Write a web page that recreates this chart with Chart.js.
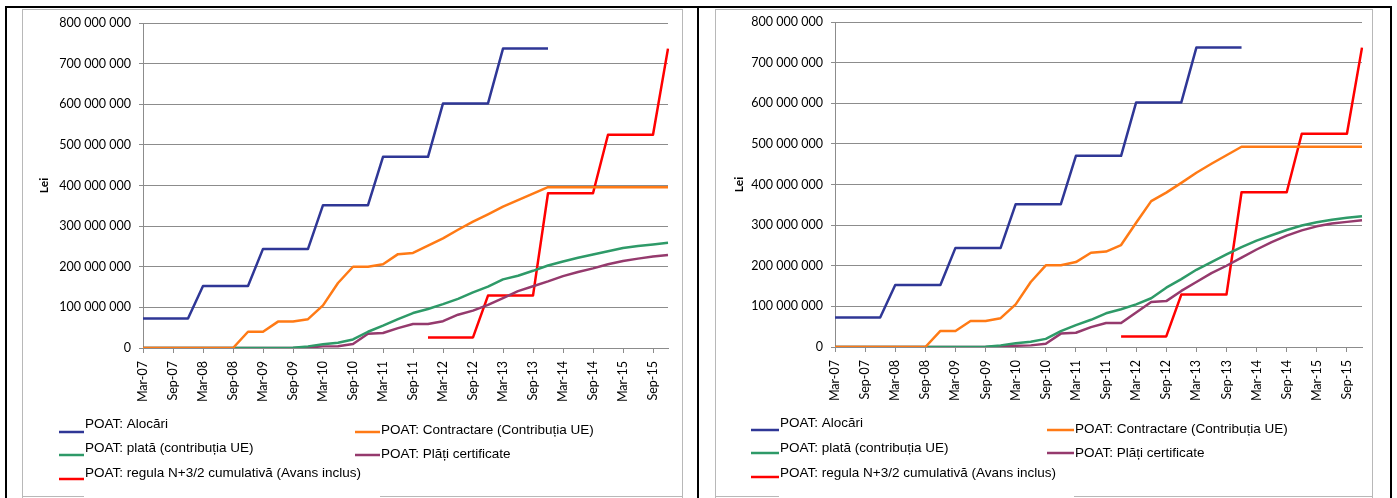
<!DOCTYPE html>
<html>
<head>
<meta charset="utf-8">
<script src="https://cdn.jsdelivr.net/npm/chart.js@4/dist/chart.umd.min.js"></script>
<style>
  html, body { margin: 0; padding: 0; background: #fff; }
  #page { position: relative; width: 1397px; height: 498px; overflow: hidden; background: #fff; }
  canvas { position: absolute; top: 0; }
  .ln { position: absolute; }
</style>
</head>
<body>
<div id="page">
  <!-- chart-area frames (grey) -->
  <div class="ln" style="left:22px;top:9px;width:1px;height:489px;background:#b8b8b8"></div>
  <div class="ln" style="left:22px;top:9px;width:661px;height:1px;background:#b8b8b8"></div>
  <div class="ln" style="left:682px;top:9px;width:1px;height:489px;background:#b8b8b8"></div>
  <div class="ln" style="left:22px;top:496px;width:62px;height:1px;background:#b8b8b8"></div>
  <div class="ln" style="left:380px;top:496px;width:303px;height:1px;background:#b8b8b8"></div>

  <div class="ln" style="left:715px;top:9px;width:1px;height:489px;background:#b8b8b8"></div>
  <div class="ln" style="left:715px;top:9px;width:658px;height:1px;background:#b8b8b8"></div>
  <div class="ln" style="left:1372px;top:9px;width:1px;height:489px;background:#b8b8b8"></div>
  <div class="ln" style="left:715px;top:496px;width:64px;height:1px;background:#b8b8b8"></div>
  <div class="ln" style="left:1074px;top:496px;width:299px;height:1px;background:#b8b8b8"></div>

  <canvas id="chartA" width="697" height="498" style="left:0px"></canvas>
  <canvas id="chartB" width="697" height="498" style="left:700px"></canvas>

  <!-- outer black table frame -->
  <div class="ln" style="left:5px;top:6px;width:1387px;height:2px;background:#000"></div>
  <div class="ln" style="left:5px;top:6px;width:2px;height:492px;background:#000"></div>
  <div class="ln" style="left:697px;top:6px;width:2px;height:492px;background:#000"></div>
  <div class="ln" style="left:1390px;top:6px;width:2px;height:492px;background:#000"></div>
</div>

<script>
// Quarterly categories (the axis labels only every second one: Mar / Sep)
const quarters = [
  'Mar-07','Jun-07','Sep-07','Dec-07','Mar-08','Jun-08','Sep-08','Dec-08',
  'Mar-09','Jun-09','Sep-09','Dec-09','Mar-10','Jun-10','Sep-10','Dec-10',
  'Mar-11','Jun-11','Sep-11','Dec-11','Mar-12','Jun-12','Sep-12','Dec-12',
  'Mar-13','Jun-13','Sep-13','Dec-13','Mar-14','Jun-14','Sep-14','Dec-14',
  'Mar-15','Jun-15','Sep-15','Dec-15'
];

const seriesNames = [
  'POAT: Alocări',
  'POAT: Contractare (Contribuția UE)',
  'POAT: plată (contribuția UE)',
  'POAT: Plăți certificate',
  'POAT: regula N+3/2 cumulativă (Avans inclus)'
];

// Values in millions of lei
const alocari = [
  72.8, 72.8, 72.8, 72.8, 152.4, 152.4, 152.4, 152.4,
  244, 244, 244, 244, 351.5, 351.5, 351.5, 351.5,
  470.5, 470.5, 470.5, 470.5, 602, 602, 602, 602,
  737, 737, 737, 737, null, null, null, null,
  null, null, null, null
];

const regulaN32 = [
  null, null, null, null, null, null, null, null,
  null, null, null, null, null, null, null, null,
  null, null, null, 26, 26, 26, 26, 129,
  129, 129, 129, 381, 381, 381, 381, 525,
  525, 525, 525, 737
];

// Left chart
const contractareA = [
  0, 0, 0, 0, 0, 0, 0, 40,
  40, 65, 65, 71, 105, 160, 200, 200,
  206, 231, 234, 252, 270, 291, 311, 329,
  348, 364, 380, 396, 396, 396, 396, 396,
  396, 396, 396, 396
];
const plataA = [
  0, 0, 0, 0, 0, 0, 0, 0,
  0, 0, 0.5, 4, 9, 13, 21, 40,
  55, 71, 86, 96, 108, 121, 137, 151,
  169, 178, 190, 203, 213, 222, 230, 238,
  246, 251, 255, 259
];
const certificateA = [
  0, 0, 0, 0, 0, 0, 0, 0,
  0, 0, 0, 1.5, 4, 4.5, 10, 35,
  37, 49, 59, 59, 66, 82, 92, 106,
  123, 140, 152, 164, 177, 187, 196, 206,
  214, 220, 225, 229
];

// Right chart
const contractareB = [
  0, 0, 0, 0, 0, 0, 0, 39.5,
  39.5, 64, 64, 71, 105, 160, 201, 201,
  209, 232, 235, 251, 306, 359, 380, 404,
  429, 451, 472, 493, 493, 493, 493, 493,
  493, 493, 493, 493
];
const plataB = [
  0, 0, 0, 0, 0, 0, 0, 0,
  0, 0, 0.5, 4, 9, 13, 20, 39,
  54, 67, 83, 93, 105, 120, 146, 167,
  190, 209, 228, 246, 262, 275, 288, 299,
  307, 313, 318, 322
];
const certificateB = [
  0, 0, 0, 0, 0, 0, 0, 0,
  0, 0, 0, 1.5, 3, 4, 8, 33,
  35, 49, 59, 59, 85, 111, 113, 138,
  160, 182, 200, 220, 240, 258, 274, 287,
  297, 304, 308, 312
];

const colors = ['#2f3796', '#ff7a15', '#2e9a68', '#953a6d', '#ff0000'];
const GRID = '#8c8c8c';
const AXIS = '#8c8c8c';

function fmtLei(v) {
  const n = Math.round(v * 1000000);
  return String(n).replace(/\B(?=(\d{3})+(?!\d))/g, ' ');
}

// Two-column legend drawn below the plot
function legendPlugin(geo) {
  return {
    id: 'sideLegend',
    afterDraw(chart) {
      const ctx = chart.ctx;
      ctx.save();
      ctx.font = '13.5px "Liberation Sans", Arial, sans-serif';
      ctx.textBaseline = 'middle';
      ctx.textAlign = 'left';
      chart.data.datasets.forEach((ds, i) => {
        const p = geo[i];
        ctx.strokeStyle = ds.borderColor;
        ctx.lineWidth = 2.5;
        ctx.beginPath();
        ctx.moveTo(p.x0, p.ly);
        ctx.lineTo(p.x1, p.ly);
        ctx.stroke();
        ctx.fillStyle = '#000';
        ctx.fillText(ds.label, p.x1 + 1, p.ty);
      });
      ctx.restore();
    }
  };
}

function makeChart(id, sets, g) {
  const datasets = sets.map((d, i) => ({
    label: seriesNames[i],
    data: d,
    borderColor: colors[i],
    backgroundColor: colors[i],
    borderWidth: 2.5,
    pointRadius: 0,
    pointHoverRadius: 0,
    fill: false,
    tension: 0,
    spanGaps: false,
    borderJoinStyle: 'round'
  }));
  return new Chart(document.getElementById(id), {
    type: 'line',
    data: { labels: quarters, datasets },
    options: {
      responsive: false,
      animation: false,
      devicePixelRatio: 1,
      layout: { padding: { left: 0, top: g.top, right: g.right, bottom: 0 } },
      plugins: { legend: { display: false }, tooltip: { enabled: false } },
      scales: {
        x: {
          type: 'category',
          offset: false,
          grid: {
            drawOnChartArea: false,
            tickLength: 5,
            tickColor: (c) => (c.index % 2 === 0 ? AXIS : 'rgba(0,0,0,0)')
          },
          border: { color: AXIS, width: 1 },
          ticks: {
            autoSkip: false,
            maxRotation: 90,
            minRotation: 90,
            padding: 8,
            color: '#000',
            font: { family: 'Lato', size: 12.5 },
            callback: (v, i) => (i % 2 === 0 ? quarters[i] : '')
          },
          afterFit: (s) => { s.height = g.xh; }
        },
        y: {
          min: 0,
          max: 800,
          grid: { color: GRID, tickLength: 4, tickColor: GRID },
          border: { color: AXIS, width: 1 },
          ticks: {
            stepSize: 100,
            padding: 8,
            color: '#000',
            font: { family: 'Lato', size: 12.5 },
            callback: (v) => fmtLei(v)
          },
          title: {
            display: true,
            text: 'Lei',
            color: '#000',
            font: { family: 'Lato', size: 12, weight: 'bold' },
            padding: { top: g.titlePad, bottom: 0 }
          },
          afterFit: (s) => { s.width = g.yw; }
        }
      }
    },
    plugins: [legendPlugin(g.legend)]
  });
}

makeChart('chartA', [alocari, contractareA, plataA, certificateA, regulaN32], {
  top: 23, right: 29, xh: 150, yw: 143, titlePad: 37,
  legend: [
    { x0: 59, x1: 84, ly: 432, ty: 424 },
    { x0: 355, x1: 380, ly: 432, ty: 430 },
    { x0: 59, x1: 84, ly: 455, ty: 448 },
    { x0: 355, x1: 380, ly: 455, ty: 454 },
    { x0: 59, x1: 84, ly: 479, ty: 473 }
  ]
});

makeChart('chartB', [alocari, contractareB, plataB, certificateB, regulaN32], {
  top: 22, right: 35, xh: 151, yw: 135, titlePad: 32,
  legend: [
    { x0: 51, x1: 79, ly: 430, ty: 423 },
    { x0: 347, x1: 374, ly: 430, ty: 429 },
    { x0: 51, x1: 79, ly: 453, ty: 448 },
    { x0: 347, x1: 374, ly: 453, ty: 453 },
    { x0: 51, x1: 79, ly: 477, ty: 473 }
  ]
});
</script>
</body>
</html>
